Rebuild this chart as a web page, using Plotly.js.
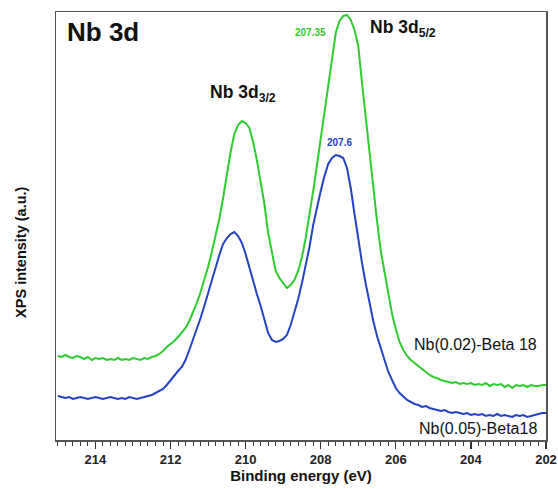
<!DOCTYPE html>
<html>
<head>
<meta charset="utf-8">
<script src="https://cdn.plot.ly/plotly-3.0.1.min.js"></script>
<style>html,body{margin:0;padding:0;background:#fff;}#chart{width:558px;height:489px;}</style>
</head>
<body>
<div id="chart"></div>
<script>
// Binding energy (eV)
const energy = [
215.0,214.9,214.8,214.7,214.6,214.5,214.4,214.3,214.2,214.1,
214.0,213.9,213.8,213.7,213.6,213.5,213.4,213.3,213.2,213.1,
213.0,212.9,212.8,212.7,212.6,212.5,212.4,212.3,212.2,212.1,
212.0,211.9,211.8,211.7,211.6,211.5,211.4,211.3,211.2,211.1,
211.0,210.9,210.8,210.7,210.6,210.5,210.4,210.3,210.2,210.1,
210.0,209.9,209.8,209.7,209.6,209.5,209.4,209.3,209.2,209.1,
209.0,208.9,208.8,208.7,208.6,208.5,208.4,208.3,208.2,208.1,
208.0,207.9,207.8,207.7,207.6,207.5,207.4,207.3,207.2,207.1,
207.0,206.9,206.8,206.7,206.6,206.5,206.4,206.3,206.2,206.1,
206.0,205.9,205.8,205.7,205.6,205.5,205.4,205.3,205.2,205.1,
205.0,204.9,204.8,204.7,204.6,204.5,204.4,204.3,204.2,204.1,
204.0,203.9,203.8,203.7,203.6,203.5,203.4,203.3,203.2,203.1,
203.0,202.9,202.8,202.7,202.6,202.5,202.4,202.3,202.2,202.1,
202.0];

// Nb(0.02)-Beta 18 (green), arbitrary units
const nb002 = [
84,83,85,83,82,84,83,81,83,80,
82,81,82,80,81,80,82,80,81,80,
82,81,80,82,81,83,84,86,89,93,
96,99,103,107,112,119,128,137,148,160,
173,188,204,221,242,265,288,306,315,319,
317,312,298,280,259,236,207,186,169,162,
157,152,155,160,169,183,202,224,249,275,
302,329,355,382,407,419,424,425,420,410,
394,357,322,283,249,219,189,167,148,126,
111,98,90,84,80,77,74,71,68,65,
63,62,60,59,58,57,58,56,57,56,
57,55,56,55,57,54,56,55,56,53,
55,52,55,54,55,53,55,54,54,55,
55];

// Nb(0.05)-Beta18 (blue), arbitrary units
const nb005 = [
44,43,42,43,41,42,43,42,41,42,
43,42,41,42,43,42,41,42,41,43,
42,41,42,43,44,45,47,49,51,55,
60,65,69,73,80,90,100,110,122,134,
147,160,172,185,196,202,206,208,204,197,
186,172,159,146,134,121,107,100,98,99,
101,105,115,128,141,157,175,193,215,233,
249,264,276,282,285,284,282,272,252,226,
201,177,156,136,119,104,91,80,68,60,
52,47,43,40,38,36,35,33,34,32,
31,30,29,30,28,27,28,27,26,27,
25,26,25,26,24,25,24,26,24,25,
24,23,25,24,25,23,24,25,26,27,
27];

const seriesNames = ["Nb(0.02)-Beta 18", "Nb(0.05)-Beta18"];
const peakLabels = ["207.35", "207.6"];
const xTickVals = [214, 212, 210, 208, 206, 204, 202];

const green = "#2ecc2e";
const blue = "#2443c4";

const traces = [
  {x: energy, y: nb002, type: "scatter", mode: "lines", name: seriesNames[0],
   line: {color: green, width: 2}},
  {x: energy, y: nb005, type: "scatter", mode: "lines", name: seriesNames[1],
   line: {color: blue, width: 2}}
];

const font = "Liberation Sans, Arial, sans-serif";

const layout = {
  width: 558, height: 489,
  margin: {l: 56, r: 12, t: 12, b: 49},
  paper_bgcolor: "#fff", plot_bgcolor: "#fff",
  showlegend: false,
  font: {family: font, color: "#111"},
  xaxis: {
    range: [215.05, 202.0],
    tickvals: xTickVals,
    ticktext: xTickVals.map(String),
    ticks: "outside", ticklen: 7, tickwidth: 1.2, tickcolor: "#333",
    minor: {dtick: 0.2, ticks: "outside", ticklen: 4, tickwidth: 1, tickcolor: "#333", showgrid: false},
    showgrid: false, zeroline: false,
    showline: true, linecolor: "#555", linewidth: 1.5, mirror: true,
    tickfont: {family: font, size: 13, weight: "bold", color: "#222"},
    title: {text: "Binding energy (eV)", font: {family: font, size: 15, weight: "bold", color: "#111"}, standoff: 4}
  },
  yaxis: {
    range: [0, 428],
    showticklabels: false, ticks: "",
    showgrid: false, zeroline: false,
    showline: true, linecolor: "#555", linewidth: 1.5, mirror: true
  },
  annotations: [
    {xref: "paper", yref: "paper", x: 0.018, y: 0.953, xanchor: "left", yanchor: "middle",
     text: "<b>Nb 3d</b>", showarrow: false, font: {family: font, size: 26, color: "#111"}},
    {xref: "x", yref: "paper", x: 210.07, y: 0.81, xanchor: "center", yanchor: "middle",
     text: "<b>Nb 3d<sub>3/2</sub></b>", showarrow: false, font: {family: font, size: 17.5, color: "#111"}},
    {xref: "x", yref: "paper", x: 205.82, y: 0.962, xanchor: "center", yanchor: "middle",
     text: "<b>Nb 3d<sub>5/2</sub></b>", showarrow: false, font: {family: font, size: 17.5, color: "#111"}},
    {xref: "x", yref: "paper", x: 208.26, y: 0.953, xanchor: "center", yanchor: "middle",
     text: "<b>" + peakLabels[0] + "</b>", showarrow: false, font: {family: font, size: 10, color: green}},
    {xref: "x", yref: "paper", x: 207.5, y: 0.695, xanchor: "center", yanchor: "middle",
     text: "<b>" + peakLabels[1] + "</b>", showarrow: false, font: {family: font, size: 10, color: blue}},
    {xref: "paper", yref: "paper", x: 0.985, y: 0.222, xanchor: "right", yanchor: "middle",
     text: seriesNames[0], showarrow: false, font: {family: font, size: 16, color: "#111"}},
    {xref: "paper", yref: "paper", x: 0.985, y: 0.028, xanchor: "right", yanchor: "middle",
     text: seriesNames[1], showarrow: false, font: {family: font, size: 16, color: "#111"}},
    {xref: "paper", yref: "paper", x: -0.073, y: 0.44, xanchor: "center", yanchor: "middle",
     textangle: -90, text: "<b>XPS intensity (a.u.)</b>", showarrow: false,
     font: {family: font, size: 14.5, color: "#111"}}
  ]
};

Plotly.newPlot("chart", traces, layout, {displayModeBar: false, staticPlot: true});
</script>
</body>
</html>
